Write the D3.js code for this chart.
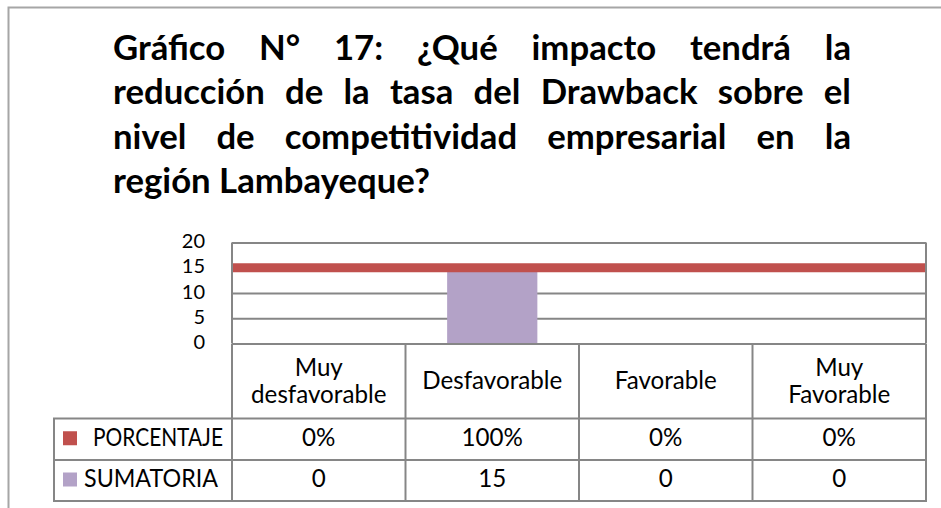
<!DOCTYPE html>
<html><head><meta charset="utf-8">
<script src="https://cdn.jsdelivr.net/npm/d3@7"></script>
<style>body{margin:0;background:#fff}svg{display:block}</style>
</head><body>
<svg id="c" width="941" height="508"></svg>
<script>
const titleLines = [
  "Gráfico N° 17: ¿Qué impacto tendrá la",
  "reducción de la tasa del Drawback sobre el",
  "nivel de competitividad empresarial en la",
  "región Lambayeque?"
];
const categories = ["Muy desfavorable", "Desfavorable", "Favorable", "Muy Favorable"];
const seriesNames = ["PORCENTAJE", "SUMATORIA"];
const porcentaje = [0, 1, 0, 0];
const sumatoria = [0, 15, 0, 0];
const yTickValues = [0, 5, 10, 15, 20];
const seriesColors = ["#C0504D", "#B3A2C7"];

const FONT = "Lato, 'Open Sans', sans-serif";
const GRID = "#868686";
const svg = d3.select("#c");

function measure(txt, size, weight) {
  const t = svg.append("text").attr("font-family", FONT).attr("font-size", size)
    .attr("font-weight", weight || "normal").text(txt);
  const w = t.node().getComputedTextLength();
  t.remove();
  return w;
}
function fitSize(txt, width, weight) { return 100 * width / measure(txt, 100, weight); }

// outer frame
svg.append("path").attr("d", "M8.5,508V7.5H941").attr("fill", "none")
  .attr("stroke", "#a6a6a6").attr("stroke-width", 2);

// title, justified
const tLeft = 113, tRight = 851, tBase = 59.5, tLH = 44.6;
const titleSize = fitSize(titleLines[titleLines.length - 1], 317, "bold");
const spaceW = measure("a a", titleSize, "bold") - measure("aa", titleSize, "bold");
const titleG = svg.append("g").attr("font-family", FONT).attr("font-weight", "bold")
  .attr("font-size", titleSize).attr("fill", "#000");
titleLines.forEach((line, li) => {
  const words = line.split(" ");
  const last = li === titleLines.length - 1;
  const widths = words.map(w => measure(w, titleSize, "bold"));
  const gap = last ? spaceW
    : (tRight - tLeft - d3.sum(widths)) / (words.length - 1);
  let xPos = tLeft;
  words.forEach((w, i) => {
    titleG.append("text").attr("x", xPos).attr("y", tBase + li * tLH).text(w);
    xPos += widths[i] + gap;
  });
});

// plot area
const plotL = 232, plotR = 926, plotT = 242.5, plotB = 343.5;
const x = d3.scaleBand().domain(categories).range([plotL, plotR]).padding(0);
const y = d3.scaleLinear().domain([0, 20]).range([plotB, plotT]);
const textSize = fitSize("Desfavorable", 140);
const tickSize = 20;

const yAxis = svg.append("g").attr("transform", `translate(${plotL},0)`)
  .call(d3.axisLeft(y).tickValues(yTickValues).tickSizeInner(-(plotR - plotL))
    .tickSizeOuter(0).tickPadding(27));
yAxis.select(".domain").remove();
yAxis.selectAll(".tick line").attr("stroke", GRID).attr("stroke-width", 2);
yAxis.selectAll(".tick text").attr("font-family", FONT).attr("font-size", tickSize)
  .attr("fill", "#000").attr("dy", "0.25em");

// plot borders (left & right)
svg.append("line").attr("x1", plotL).attr("x2", plotL).attr("y1", plotT).attr("y2", plotB)
  .attr("stroke", GRID).attr("stroke-width", 2);
svg.append("line").attr("x1", plotR).attr("x2", plotR).attr("y1", plotT).attr("y2", plotB)
  .attr("stroke", GRID).attr("stroke-width", 2);

// bars (SUMATORIA)
const barW = x.bandwidth() * 0.52;
svg.append("g").selectAll("rect").data(sumatoria).join("rect")
  .attr("x", (d, i) => x(categories[i]) + (x.bandwidth() - barW) / 2)
  .attr("width", barW)
  .attr("y", d => y(d))
  .attr("height", d => y(0) - y(d))
  .attr("fill", seriesColors[1]);

// PORCENTAJE line: 100% of the total
const totalLevel = d3.sum(sumatoria);
svg.append("line").attr("x1", plotL + 1).attr("x2", plotR - 1)
  .attr("y1", y(totalLevel)).attr("y2", y(totalLevel))
  .attr("stroke", seriesColors[0]).attr("stroke-width", 9);

// data table
const rows = [344, 418.5, 460, 501];
const legL = 54;
const tg = svg.append("g").attr("stroke", GRID).attr("stroke-width", 2);
tg.append("line").attr("x1", plotL).attr("x2", plotR).attr("y1", rows[0]).attr("y2", rows[0]);
rows.slice(1).forEach(r => tg.append("line").attr("x1", legL - 1).attr("x2", plotR + 1).attr("y1", r).attr("y2", r));
tg.append("line").attr("x1", legL).attr("x2", legL).attr("y1", rows[1]).attr("y2", rows[3]);
categories.concat([null]).forEach((c, i) => {
  const xx = c ? x(c) : plotR;
  tg.append("line").attr("x1", xx).attr("x2", xx).attr("y1", rows[0]).attr("y2", rows[3]);
});

const txt = svg.append("g").attr("font-family", FONT).attr("font-size", textSize).attr("fill", "#000");
// header
const hc = (rows[0] + rows[1]) / 2;
categories.forEach(c => {
  const parts = c.split(" ");
  parts.forEach((p, i) => {
    txt.append("text").attr("text-anchor", "middle")
      .attr("x", x(c) + x.bandwidth() / 2)
      .attr("y", hc + 8 + (i - (parts.length - 1) / 2) * 27.5)
      .text(p);
  });
});
// value rows
const fmtPct = d3.format(".0%");
const rowVals = [porcentaje.map(fmtPct), sumatoria.map(String)];
const legendTextX = [93, 84];
const legendTextW = [130, 134];
rowVals.forEach((vals, ri) => {
  const rc = (rows[ri + 1] + rows[ri + 2]) / 2;
  vals.forEach((v, ci) => {
    txt.append("text").attr("text-anchor", "middle")
      .attr("x", x(categories[ci]) + x.bandwidth() / 2).attr("y", rc + 6.5).text(v);
  });
  svg.append("rect").attr("x", 63).attr("y", rc - 8).attr("width", 14).attr("height", 14)
    .attr("fill", seriesColors[ri]);
  txt.append("text").attr("x", legendTextX[ri]).attr("y", rc + 6.5)
    .attr("textLength", legendTextW[ri]).attr("lengthAdjust", "spacingAndGlyphs")
    .text(seriesNames[ri]);
});
</script>
</body></html>
